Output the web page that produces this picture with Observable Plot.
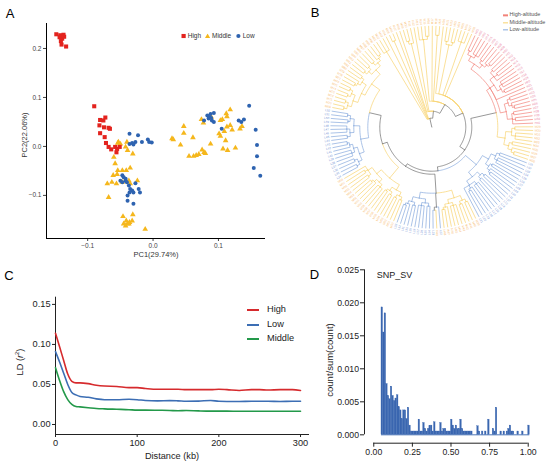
<!DOCTYPE html>
<html><head><meta charset="utf-8">
<script src="https://cdn.jsdelivr.net/npm/d3@7"></script>
<script src="https://cdn.jsdelivr.net/npm/@observablehq/plot@0.6"></script>
<style>
body{margin:0;background:#fff;}
#fig{position:relative;width:550px;height:467px;overflow:hidden;background:#fff;font-family:"Liberation Sans",Arial,sans-serif;}
.pan{position:absolute;}
.t{position:absolute;white-space:nowrap;line-height:1;}
</style></head><body><div id="fig"></div>
<script>
// ---------------- DATA ----------------
// Panel A: PCA (PC1, PC2)
const highPts = [[-0.148,0.229],[-0.142,0.227],[-0.137,0.228],[-0.139,0.220],[-0.141,0.215],[-0.140,0.208],[-0.133,0.204],[-0.136,0.224],[-0.143,0.223],
 [-0.090,0.082],[-0.081,0.054],[-0.073,0.059],[-0.076,0.053],[-0.082,0.043],[-0.075,0.039],[-0.068,0.038],[-0.066,0.036],[-0.081,0.027],[-0.074,0.019],
 [-0.072,0.007],[-0.068,-0.001],[-0.064,-0.006],[-0.058,-0.001],[-0.055,-0.005],[-0.056,-0.012],[-0.051,-0.001]];
const middlePts = [[-0.053,0.009],[-0.050,0.005],[-0.040,0.009],[-0.042,-0.001],[-0.039,-0.008],[-0.031,-0.015],[-0.060,-0.022],[-0.058,-0.035],
 [-0.054,-0.049],[-0.047,-0.049],[-0.041,-0.049],[-0.035,-0.044],[-0.061,-0.059],[-0.055,-0.057],[-0.063,-0.073],[-0.056,-0.076],[-0.047,-0.073],
 [-0.037,-0.070],[-0.035,-0.076],[-0.070,-0.076],[-0.068,-0.104],[-0.046,-0.143],[-0.031,-0.139],[-0.041,-0.152],[-0.039,-0.158],[-0.036,-0.155],
 [-0.042,-0.162],[-0.037,-0.158],[-0.032,-0.152],[-0.012,-0.169],[-0.024,-0.070],[-0.045,-0.158],[-0.054,0.007],
 [0.047,0.041],[0.047,0.027],[0.029,0.016],[0.031,0.014],[0.042,0.003],[0.061,0.018],[0.088,0.005],[0.055,-0.020],[0.062,-0.020],[0.066,-0.018],
 [0.070,-0.016],[0.075,-0.007],[0.078,-0.012],[0.080,-0.014],[0.074,0.055],[0.077,0.048],[0.103,0.053],[0.106,0.055],[0.112,0.067],[0.118,0.075],
 [0.113,0.061],[0.101,0.026],[0.103,0.021],[0.109,0.031],[0.113,0.040],[0.118,0.043],[0.121,0.034],[0.111,0.012],[0.107,-0.005],[0.114,-0.008],
 [0.126,-0.003],[0.133,0.036],[0.136,0.041],[0.089,0.060]];
const lowPts = [[-0.036,0.026],[-0.023,0.023],[-0.017,0.009],[-0.008,0.014],[-0.006,0.009],[-0.002,0.008],[-0.027,0.009],[-0.032,0.007],[-0.036,0.005],[-0.030,0.004],
 [-0.047,-0.059],[-0.045,-0.063],[-0.050,-0.070],[-0.042,-0.070],[-0.040,-0.073],[-0.047,-0.073],[-0.037,-0.080],[-0.035,-0.087],[-0.032,-0.090],
 [-0.036,-0.094],[-0.039,-0.100],[-0.027,-0.075],[-0.022,-0.087],[-0.020,-0.094],[-0.030,-0.094],[-0.039,-0.111],[-0.030,-0.117],[-0.042,-0.066],
 [0.147,0.083],[0.078,0.053],[0.083,0.063],[0.088,0.066],[0.093,0.068],[0.085,0.057],[0.090,0.053],[0.093,0.050],[0.086,0.060],[0.089,0.058],
 [0.131,0.053],[0.135,0.050],[0.139,0.055],[0.105,0.036],[0.157,0.034],[0.159,0.003],[0.159,-0.020],[0.154,-0.044],[0.164,-0.060]];
const pcaX = [-0.163, 0.172];
const pcaY = [-0.188, 0.251];
const pc1Ticks = [-0.1, 0, 0.1];
const pc2Ticks = [-0.1, 0, 0.1, 0.2];

// Panel B: tree (Newick clades; H = High, M = Middle, L = Low altitude)
const cladeRed = "((((H,H):4,(H,H,H):3):5,((H,H):3,(H,(H,H):2):3):4):6,(((H,H):3,(H,H):4,H):5,((H,H,H):3,(H,H):2):4):5,H,(((H,H):3,(H,(H,H):2):3):4,((H,H):2,(H,H):3,H):5):6)";
const cladeMid2 = "(((M,M):3,(M,M,M):4):6,((M,M):3,(M,(M,M):3):4):5)";
const cladeLow3 = "((((L,L):3,(L,L,L):3):5,((L,L):2,(L,(L,L):2):3):4):7,(((L,L):3,(L,L):3):4,((L,L,L):3,(L,(L,L):2):3,L):5):6)";
const cladeMid4 = "(((M,M):3,(M,M):3):5,((M,M,M):3,(M,(M,M):2):3):4)";
const cladeMix5 = "(L,(M,L):3)";
const cladeLow6 = "(((L,L):3,(L,L,L):3):4,((L,L):3,(L,(L,L):2):3):5)";
const cladeMid7 = "((((M,M):3,(M,M):3):4,((M,M):3,(M,M):2):4):6,(((M,M,M):3,(M,(M,M):2):3):4,((M,M):3,(M,M):3,M):5):6)";
const cladeLow8 = "((((L,L):3,(L,L):3):4,((L,L,L):3,(L,(L,L):2):3):4):5,(((L,L):3,(L,L,L):3):4,((L,L):2,(L,L):3):4):6)";
const cladeMid9 = "(((((M,M):3,(M,M):3):4,((M,M):3,(M,M):3):4):5,(((M,M):2,M):3,(M,M):3):5):4,(((M,M):3,(M,M):3):4,((M,M):3,(M,(M,M):2):3):4):6)";
const treeGroups = ["H", "M", "L"];
const treeNames = ["High-altitude", "Middle-altitude", "Low-altitude"];
const treeEdgeColors = ["#F2837A", "#F8D36E", "#86A9DD"];
const treeLabelColors = ["#E97C9E", "#F8BE76", "#7C98D6"];

// Panel C: LD decay
const ldDistance = [0,5,10,15,20,25,30,40,50,60,75,90,100,110,125,140,150,160,175,190,200,210,225,240,250,260,275,290,300];
const ldHigh = [0.114,0.097,0.080,0.063,0.054,0.052,0.052,0.051,0.049,0.048,0.0475,0.046,0.046,0.045,0.044,0.044,0.044,0.0435,0.0435,0.0435,0.044,0.0435,0.0425,0.0435,0.0435,0.043,0.0435,0.0435,0.0425];
const ldLow = [0.091,0.078,0.064,0.050,0.040,0.037,0.035,0.034,0.032,0.031,0.031,0.0315,0.031,0.030,0.0295,0.0298,0.0295,0.029,0.0292,0.030,0.029,0.0288,0.0288,0.029,0.029,0.029,0.0288,0.029,0.029];
const ldMiddle = [0.071,0.055,0.041,0.031,0.025,0.0225,0.022,0.021,0.020,0.0195,0.019,0.0185,0.018,0.018,0.0178,0.0175,0.0172,0.0175,0.017,0.0167,0.0167,0.0167,0.0165,0.0165,0.0165,0.0165,0.0165,0.0165,0.0165];
const ldGroups = ["High", "Low", "Middle"];
const ldColors = ["#D62A2D", "#3C6EB4", "#23994A"];
const ldXTicks = [0, 100, 200, 300];
const ldYTicks = [0, 0.05, 0.10, 0.15];

// Panel D: SNP_SV histogram (bins of 0.01 starting at 0.05)
const sfsBinStart = 0.05, sfsBinWidth = 0.01;
const sfsValues = [0.0193,0.0155,0.0184,0.0077,0.0059,0.0054,0.0073,0.0059,0.0051,0.0055,
 0.0060,0.0042,0.0037,0.0024,0.0037,0.0037,0.0024,0.0041,0.0014,0.0005,
 0.0005,0.0005,0.0005,0.0005,0.0023,0.0005,0.0005,0.0018,0.0009,0.0005,
 0.0009,0.0013,0.0014,0.0005,0.0019,0.0005,0.0005,0.0005,0.0018,0.0005,
 0.0009,0.0009,0.0005,0.0005,0.0005,0.0023,0.0014,0.0009,0.0014,0.0009,
 0.0009,0.0023,0.0009,0.0005,0.0005,0.0005,0.0005,0.0005,0.0005,0,
 0,0,0.0013,0.0005,0,0.0005,0,0.0005,0,0.0023,
 0,0,0.0009,0.0005,0.0041,0,0,0.0005,0,0.0005,
 0,0.0005,0.0009,0.0014,0.0005,0.0005,0,0,0.0005,0,
 0,0.0005,0,0,0,0.0014];
const sfsXTicks = [0, 0.25, 0.5, 0.75, 1];
const sfsYTicks = [0, 0.005, 0.010, 0.015, 0.020, 0.025];

// ---------------- HELPERS ----------------
const FONT = '"Liberation Sans", Arial, sans-serif';
const fig = document.getElementById("fig");
function place(el, x, y) { const d = document.createElement("div"); d.className = "pan"; d.style.left = x + "px"; d.style.top = y + "px"; d.appendChild(el); fig.appendChild(d); }
function label(html, x, y, o = {}) {
  const d = document.createElement("div"); d.className = "t"; d.innerHTML = html;
  d.style.left = x + "px"; d.style.top = y + "px"; d.style.fontSize = (o.size || 9) + "px"; d.style.color = o.color || "#000";
  const ax = o.anchor === "start" ? "0" : o.anchor === "end" ? "-100%" : "-50%";
  d.style.transform = `translate(${ax},-50%)` + (o.rotate ? ` rotate(${o.rotate}deg)` : "");
  fig.appendChild(d); return d;
}
const pt = d => ({pc1: d[0], pc2: d[1]});

// ---------------- PANEL A ----------------
const fmt1 = d3.format(".1f");
const plotA = Plot.plot({
  width: 275, height: 260, marginLeft: 46, marginRight: 10, marginTop: 23, marginBottom: 22,
  style: {background: "transparent", fontFamily: FONT, fontSize: "6.5px", color: "#444", overflow: "visible"},
  x: {domain: pcaX}, y: {domain: pcaY},
  marks: [
    Plot.axisX({ticks: pc1Ticks, tickFormat: fmt1, tickSize: 3, tickPadding: 2, label: null}),
    Plot.axisY({ticks: pc2Ticks, tickFormat: fmt1, tickSize: 3, tickPadding: 2, label: null}),
    Plot.ruleX([pcaX[0]], {stroke: "#000", strokeWidth: 1}),
    Plot.ruleY([pcaY[0]], {stroke: "#000", strokeWidth: 1}),
    Plot.dot(middlePts.map(pt), {x: "pc1", y: "pc2", symbol: "triangle", fill: "#F5B71C", r: 2.1}),
    Plot.dot(lowPts.map(pt), {x: "pc1", y: "pc2", symbol: "circle", fill: "#2E63B0", r: 2}),
    Plot.dot(highPts.map(pt), {x: "pc1", y: "pc2", symbol: "square", fill: "#E3231E", r: 2.3})
  ]
});
place(plotA, 0, 0);
label("PC1(29.74%)", 156, 255, {size: 7.5, color: "#333"});
label("PC2(22.06%)", 25, 135, {size: 7.5, color: "#333", rotate: -90});
const legA = [["High", "#E3231E", '<rect x="0.5" y="0.5" width="4.2" height="4.2"/>', 180.7],
              ["Middle", "#F5B71C", '<path d="M2.6 0.2L5.2 4.7L0 4.7Z"/>', 205],
              ["Low", "#2E63B0", '<circle cx="2.4" cy="2.6" r="2.1"/>', 235.7]];
legA.forEach(([t, c, s, x]) => {
  label(`<svg width="5.2" height="5.2" style="display:block" fill="${c}">${s}</svg>`, x, 36, {anchor: "start"});
  label(t, x + 7, 36, {anchor: "start", size: 6.5, color: "#333"});
});

// ---------------- PANEL B ----------------
function parseNewick(str) {
  const s = str.replace(/\s+/g, ""); let i = 0;
  function node() {
    const n = {children: [], len: 0, name: ""};
    if (s[i] === "(") {
      i++; n.children.push(node());
      while (s[i] === ",") { i++; n.children.push(node()); }
      i++;
    } else {
      while (i < s.length && !",():;".includes(s[i])) n.name += s[i++];
    }
    if (s[i] === ":") { i++; let num = ""; while (i < s.length && !",();".includes(s[i])) num += s[i++]; n.len = +num; }
    return n;
  }
  return node();
}
const L5 = `(${cladeLow8}:8,${cladeMid9}:10)`;
const L4 = `(${cladeMid7}:14,${L5}:12)`;
const L3 = `((${cladeMid4}:8,${cladeMix5}:14,${cladeLow6}:6):19,${L4}:5)`;
const L2 = `(${cladeLow3}:14,${L3}:3)`;
const L1 = `((${cladeRed}:4,${cladeMid2}:8):26,${L2}:4)`;
const S3 = `(M,((M,M):3,(M,M):3):50,(M,M,M):56,M,${L1}:6)`;
const S2 = `((M,M,(M,M):3):62,M,(M,M):66,${S3}:8)`;
const S1 = `(M,((M,M):3,M):70,M,${S2}:10)`;
const S0 = `((M,M,M):79,M,(M,M):85,M,${S1}:7)`;
const treeNewick = `(${S0}:9)`;

const tree = parseNewick(treeNewick);
function countLeaves(n) { return n.children.length ? d3.sum(n.children, countLeaves) : 1; }
const nLeaves = countLeaves(tree);
const startAngle = 327, step = 360 / nLeaves, R_TIP = 101, R_LAB = 103, CX = 156.3, CY = 126.7;
let leafIdx = 0; const leaves = []; const groupCount = {H: 0, M: 0, L: 0};
function layout(n, r) {
  n.r = r;
  if (!n.children.length) {
    n.r = R_TIP; n.angle = startAngle + step * leafIdx++; n.group = n.name;
    groupCount[n.group]++; n.label = n.group + String(groupCount[n.group]).padStart(2, "0");
    leaves.push(n);
  } else {
    n.children.forEach(c => layout(c, r + c.len));
    n.angle = (n.children[0].angle + n.children[n.children.length - 1].angle) / 2;
    const gs = new Set(n.children.map(c => c.group));
    n.group = gs.size === 1 ? [...gs][0] : "mix";
  }
}
layout(tree, 0);
const polar = (a, r) => ({x: CX + r * Math.sin(a * Math.PI / 180), y: CY - r * Math.cos(a * Math.PI / 180)});
const edgeColor = g => g === "mix" ? "#6B6B6B" : treeEdgeColors[treeGroups.indexOf(g)];
const edgePts = []; let eid = 0;
(function walk(p) {
  p.children.forEach(c => {
    const id = eid++, col = edgeColor(c.group);
    const n = Math.max(1, Math.ceil(Math.abs(c.angle - p.angle) / 1.5));
    for (let k = 0; k <= n; k++) edgePts.push({...polar(p.angle + (c.angle - p.angle) * k / n, p.r), id, color: col});
    edgePts.push({...polar(c.angle, c.r), id, color: col});
    walk(c);
  });
})(tree);
const labRows = leaves.map(l => {
  const a = ((l.angle % 360) + 360) % 360;
  const right = a < 180;
  return {...polar(l.angle, R_LAB), text: l.label, rot: right ? a - 90 : a - 270, right,
          color: treeLabelColors[treeGroups.indexOf(l.group)]};
});
const plotB = Plot.plot({
  width: 275, height: 260, margin: 0,
  style: {background: "transparent", fontFamily: FONT, overflow: "visible"},
  x: {domain: [0, 275], range: [0, 275], axis: null},
  y: {domain: [0, 260], range: [0, 260], axis: null},
  color: {type: "identity"},
  marks: [
    Plot.line(edgePts, {x: "x", y: "y", z: "id", stroke: "color", strokeWidth: 0.7}),
    Plot.text(labRows.filter(d => d.right), {x: "x", y: "y", text: "text", rotate: "rot", fill: "color", textAnchor: "start", fontSize: 3}),
    Plot.text(labRows.filter(d => !d.right), {x: "x", y: "y", text: "text", rotate: "rot", fill: "color", textAnchor: "end", fontSize: 3})
  ]
});
place(plotB, 275, 0);
treeNames.forEach((t, i) => {
  const y = 15.3 + i * 7.4;
  const ln = label("", 502.5, y, {anchor: "start"});
  ln.style.width = "5px"; ln.style.height = "1.3px"; ln.style.background = treeEdgeColors[i];
  label(t, 509.5, y, {anchor: "start", size: 5.5, color: "#555"});
});

// ---------------- PANEL C ----------------
const ldRows = [];
[ldHigh, ldLow, ldMiddle].forEach((vals, gi) => vals.forEach((v, j) => ldRows.push({d: ldDistance[j], v, g: ldGroups[gi]})));
const ldY = [-0.0125, 0.159];
const plotC = Plot.plot({
  width: 310, height: 207, marginLeft: 55, marginRight: 1, marginTop: 36.7, marginBottom: 33,
  style: {background: "transparent", fontFamily: FONT, fontSize: "9.2px", color: "#222", overflow: "visible"},
  x: {domain: [0, 311]}, y: {domain: ldY},
  color: {domain: ldGroups, range: ldColors},
  marks: [
    Plot.axisX({ticks: ldXTicks, tickSize: 3, tickPadding: 2, label: null}),
    Plot.axisY({ticks: ldYTicks, tickFormat: d3.format(".2f"), tickSize: 3, tickPadding: 2, label: null}),
    Plot.ruleX([0], {stroke: "#222", strokeWidth: 1}),
    Plot.ruleY([ldY[0]], {stroke: "#222", strokeWidth: 1}),
    Plot.line(ldRows, {x: "d", y: "v", stroke: "g", z: "g", strokeWidth: 1.6, curve: "monotone-x"})
  ]
});
place(plotC, 0, 260);
label("Distance (kb)", 172, 457, {size: 9.2, color: "#222"});
label("LD (<i>r</i><sup style=\"font-size:6px\">2</sup>)", 20, 362, {size: 9.2, color: "#222", rotate: -90});
ldGroups.forEach((g, i) => {
  const y = 310 + i * 14.5;
  const ln = label("", 246.5, y, {anchor: "start"});
  ln.style.width = "12px"; ln.style.height = "2px"; ln.style.background = ldColors[i];
  label(g, 267, y, {anchor: "start", size: 9.2, color: "#222"});
});

// ---------------- PANEL D ----------------
const sfsRows = sfsValues.map((v, i) => ({x1: sfsBinStart + i * sfsBinWidth, x2: sfsBinStart + (i + 1) * sfsBinWidth, v})).filter(d => d.v > 0);
const sfsX = [-0.06, 1.02], sfsY = [-0.00127, 0.0255];
const plotD = Plot.plot({
  width: 240, height: 207, marginLeft: 54, marginRight: 19.2, marginTop: 6, marginBottom: 24.3,
  style: {background: "transparent", fontFamily: FONT, fontSize: "8.7px", color: "#222", overflow: "visible"},
  x: {domain: sfsX}, y: {domain: sfsY},
  marks: [
    Plot.axisX({ticks: sfsXTicks, tickFormat: d3.format(".2f"), tickSize: 4, tickPadding: 2, label: null}),
    Plot.axisY({ticks: sfsYTicks, tickFormat: d3.format(".3f"), tickSize: 4, tickPadding: 1.5, label: null}),
    Plot.ruleX([sfsX[0]], {y1: sfsYTicks[0], y2: sfsYTicks[sfsYTicks.length - 1], stroke: "#222", strokeWidth: 1}),
    Plot.ruleY([sfsY[0]], {x1: sfsXTicks[0], x2: sfsXTicks[sfsXTicks.length - 1], stroke: "#222", strokeWidth: 1}),
    Plot.rect(sfsRows, {x1: "x1", x2: "x2", y1: d => 0, y2: "v", fill: "#3A66B0", stroke: "#3A66B0", strokeWidth: 0.3}),
    Plot.ruleY([0], {x1: sfsBinStart, x2: sfsBinStart + sfsValues.length * sfsBinWidth, stroke: "#3A66B0", strokeWidth: 0.9})
  ]
});
place(plotD, 310, 260);
label("SNP_SV", 376.7, 275, {anchor: "start", size: 9, color: "#222"});
label("count/sum(count)", 330, 360, {size: 9.5, color: "#222", rotate: -90});

// ---------------- PANEL LETTERS ----------------
label("A", 10, 13, {size: 13});
label("B", 315, 12, {size: 13});
label("C", 9, 274.5, {size: 13});
label("D", 314.5, 273.5, {size: 13});
</script></body></html>
